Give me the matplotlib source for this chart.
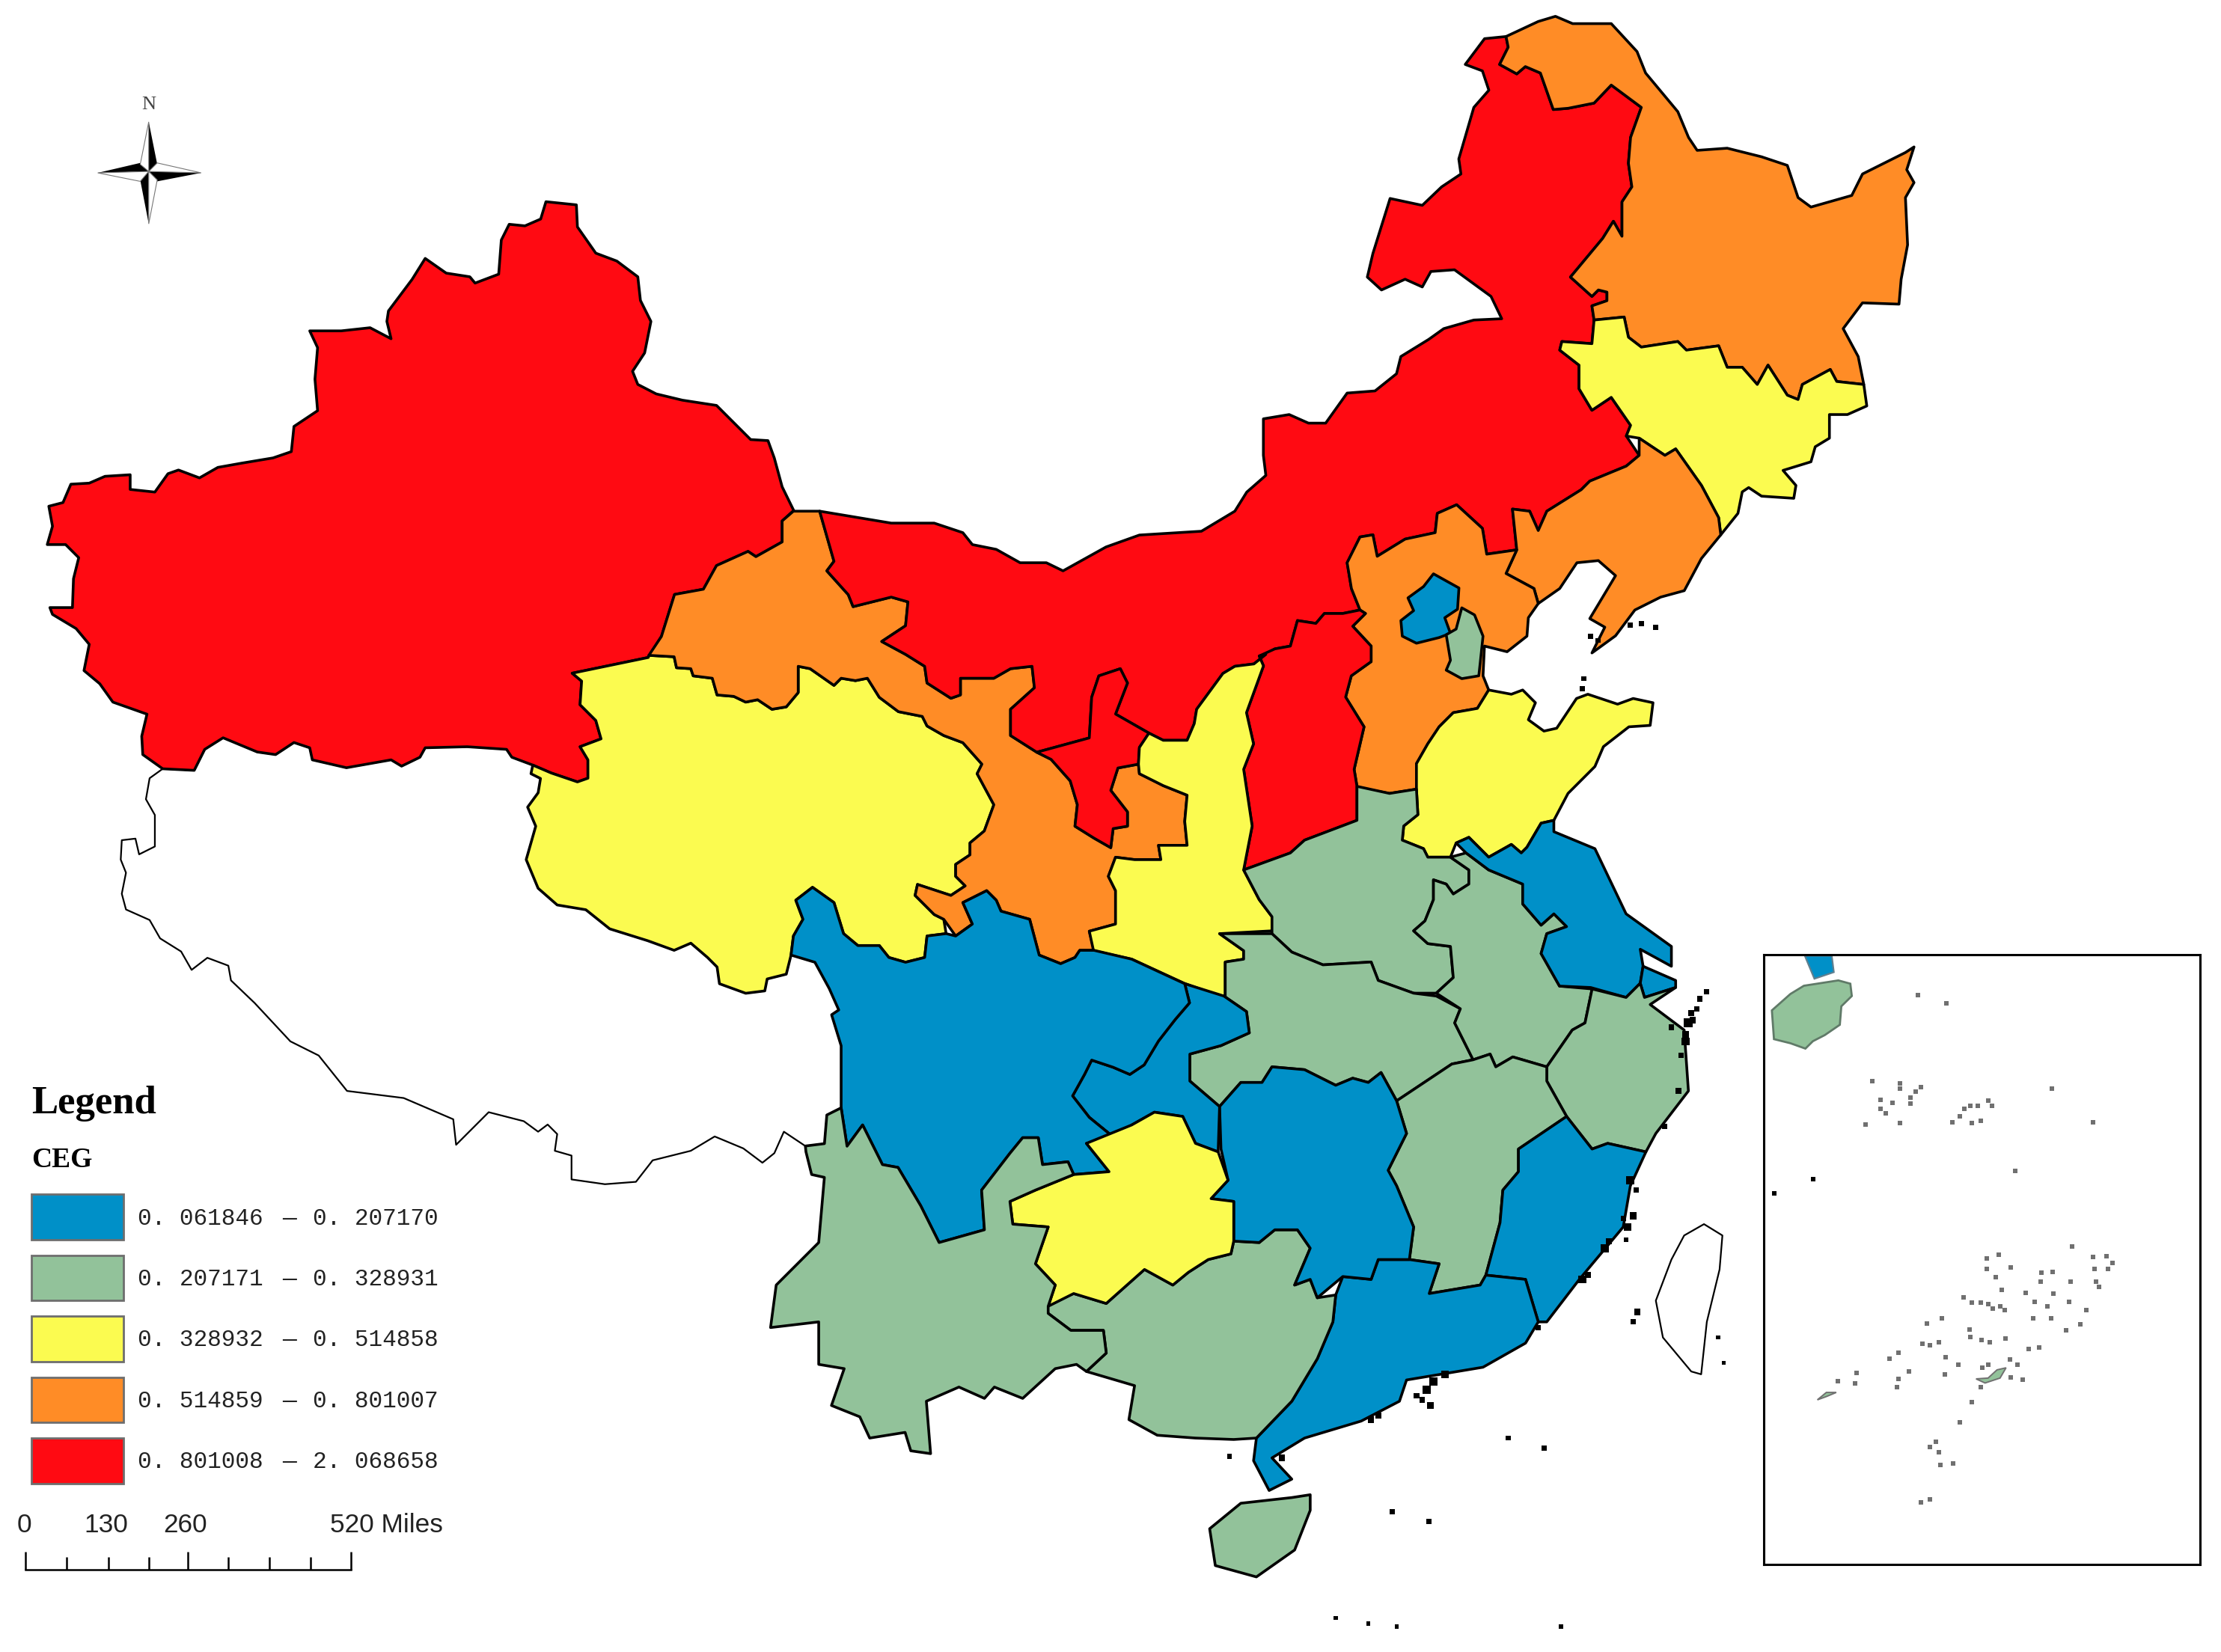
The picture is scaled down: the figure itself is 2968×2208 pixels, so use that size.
"""China province map of CEG classes, drawn in picture coordinates."""
import matplotlib
matplotlib.use("Agg")
import matplotlib.pyplot as plt
from matplotlib.patches import Polygon, Rectangle

BLUE, GREEN, YELLOW, ORANGE, RED = "#0090c8", "#92c29a", "#fbfb50", "#ff8c26", "#ff0a12"
CLASS_COLORS = [BLUE, GREEN, YELLOW, ORANGE, RED]
CLASS_LOW = ["0. 061846", "0. 207171", "0. 328932", "0. 514859", "0. 801008"]
CLASS_HIGH = ["0. 207170", "0. 328931", "0. 514858", "0. 801007", "2. 068658"]
SCALE_LABELS = ["0", "130", "260", "520 Miles"]


def west(pts):
    return [(x * 0.3706, 126.8 + y * 0.3706) for x, y in pts]


def north(pts):
    return [(898 + x * 0.3032, y * 0.3032) for x, y in pts]


def mid(pts):
    return [(369.8 + x * 0.3369, 317 + y * 0.3369) for x, y in pts]


# shared borders
XJ_OUTER = west([(1512,630),(1490,585),(1475,530),(1463,497),(1430,495),(1400,465),(1365,430),(1300,420),(1250,408),(1215,390),(1205,365),(1228,330),(1240,270),(1220,230),(1215,185),(1175,155),(1135,140),(1100,90),(1098,48),(1040,42),(1030,75),(1000,88),(970,85),(955,115),(950,180),(905,197),(895,185),(850,178),(810,150),(785,190),(740,250),(737,270),(745,303),(705,282),(650,288),(590,288),(605,320),(600,380),(605,440),(560,470),(555,518),(520,530),(460,540),(415,548),(380,568),(340,553),(320,560),(295,595),(248,590),(248,562),(200,565),(170,578),(135,580),(120,615),(93,622),(100,660),(90,695),(125,695),(150,720),(140,760),(138,815),(95,815),(100,828),(145,855),(170,885),(160,935),(190,960),(215,995),(280,1018),(270,1060),(272,1095),(310,1122)])
XJ_TIBET = west([(310,1122),(370,1125),(390,1085),(425,1063),(490,1090),(525,1095),(560,1072),(590,1082),(595,1105),(660,1120),(745,1105),(765,1117),(800,1100),(810,1082),(890,1080),(965,1085),(975,1100),(1015,1115),(1050,1130),(1100,1147)])
XJ_QH = west([(1120,1140),(1120,1105),(1105,1080),(1145,1065),(1135,1030),(1105,1000),(1108,955),(1090,940),(1235,910)])
XJ_GS = west([(1260,870),(1285,790),(1340,780),(1365,735),(1425,708),(1440,718),(1490,690),(1490,650)])
GS_QH = mid([(262,432),(315,435),(320,458),(350,460),(355,475),(395,480),(405,515),(440,518),(465,530),(490,525),(520,545),(550,540),(575,510),(575,455),(600,460),(650,495),(665,480),(695,485),(720,480),(745,520),(785,550),(835,560),(845,580),(880,600),(920,615),(960,660),(950,680),(985,745),(965,800),(935,825),(935,850),(905,870),(905,895),(925,915),(895,935),(825,912),(820,935),(860,975),(880,985)])
QH_SC = mid([(885,1015),(845,1020),(840,1065),(800,1075),(765,1065),(745,1040),(700,1040),(670,1015),(650,950),(605,918),(570,945),(585,985),(565,1020),(560,1060)])
QH_TIBET = mid([(550,1100),(510,1110),(505,1135),(465,1140),(410,1120),(405,1085),(385,1065),(350,1035),(315,1050),(260,1030),(180,1005),(130,965),(70,955),(30,920),(5,860),(25,790),(8,750),(30,720),(35,690),(15,680)])
GS_SC = mid([(905,1020),(940,995),(920,950),(970,925),(990,945),(1000,968),(1060,985),(1080,1060),(1125,1078),(1155,1065),(1165,1050),(1195,1050)])
GS_SHAANXI = mid([(1185,1010),(1240,995),(1240,925),(1225,895),(1240,855),(1280,860),(1335,860),(1330,830),(1390,830),(1385,780),(1390,725),(1340,705),(1290,680),(1288,660)])
GS_NX_EAST = mid([(1245,668),(1230,715),(1265,760),(1265,790),(1235,795),(1230,835)])
GS_NX_WEST = mid([(1195,815),(1155,790),(1160,745),(1145,695),(1105,650),(1075,635)])
GS_IM = mid([(1020,600),(1020,545),(1070,500),(1065,455),(1020,460),(985,480),(915,480),(915,515),(895,522),(845,490),(840,455),(800,430),(750,403),(800,370),(805,320),(770,310),(690,330),(680,305),(635,255),(650,235),(620,130)])
NX_IM = mid([(1075,635),(1185,605),(1190,520),(1205,475),(1250,460),(1265,490),(1240,555),(1310,595)])
IM_SHAANXI = mid([(1340,610),(1390,610),(1405,575),(1410,545),(1465,470),(1490,455),(1530,450),(1555,430)])
IM_SHANXI = [(900,458),(911,456),(916,438),(929,440),(935,433),(948,433)] + north([(205,1420)])
IM_COAST = mid([(770,155),(860,155),(920,175),(940,200),(990,210),(1040,238),(1095,238),(1130,255),(1220,205),(1290,180),(1420,172),(1490,130),(1515,90),(1555,55)]) + north([(-20,1060),(-20,975),(40,965),(85,985),(125,985),(175,915),(240,910),(290,870),(300,830),(365,790),(400,765),(470,745),(535,742),(510,690),(425,628),(370,632),(350,668),(310,650),(255,675),(222,645),(235,590),(275,462),(350,478),(395,435),(440,405),(435,370),(470,250),(505,210),(490,165),(450,150),(495,90)])
IM_HLJ = north([(545,85),(550,110),(530,150),(570,172),(590,155),(625,170),(655,255),(690,252),(750,240),(790,198),(860,250),(835,320),(830,380),(838,435),(815,470),(815,550),(795,515),(770,555),(695,645),(745,690),(760,675),(780,680),(780,700),(745,712),(750,745)])
HLJ_OUTER = north([(620,50),(660,38),(700,55),(790,55),(850,120),(870,170),(945,260),(970,320),(990,350),(1060,345),(1140,365),(1200,385),(1225,460),(1255,482),(1350,455),(1375,405),(1475,355),(1495,342),(1478,395),(1495,425),(1475,460),(1480,570),(1465,650),(1460,708),(1375,705),(1330,765),(1365,830),(1378,895)])
HLJ_JL = north([(820,738),(830,785),(860,808),(945,795),(965,815),(1040,805),(1060,855),(1095,855),(1130,895),(1155,850),(1200,920),(1225,930),(1235,895),(1300,860),(1315,888)])
JL_OUTER = north([(1385,945),(1340,965),(1298,965),(1298,1020),(1265,1040),(1255,1075),(1190,1095),(1220,1130),(1215,1160),(1140,1155),(1110,1135),(1095,1145),(1085,1195)])
JL_LN = north([(1045,1245),(1040,1205),(1000,1130),(940,1045),(915,1060),(855,1020)])
JL_IM = north([(825,1015),(835,990),(790,925),(745,955),(715,905),(715,850),(670,815),(675,795),(745,800)])
IM_LN = north([(855,1060),(825,1085),(740,1120),(720,1140),(640,1190),(620,1235),(600,1190),(560,1185),(570,1280)])
IM_HB = north([(500,1290),(490,1230),(430,1175),(385,1195),(380,1240),(310,1255),(245,1295),(235,1245),(205,1250),(175,1310),(185,1370)])
LN_HB = north([(545,1335),(610,1370),(620,1405)])
LN_COAST = north([(1000,1300),(960,1375),(905,1390),(845,1420),(800,1480),(745,1520),(775,1460),(740,1440),(800,1340),(760,1305),(710,1310),(670,1370)])
SHANXI_HB = [(964,433),(955,442),(968,456),(968,467),(954,477),(950,492),(963,513),(956,543),(958,555)]
SHANXI_SHAANXI = [(892,470),(880,503),(885,525),(878,543),(884,583)]
SHANXI_HENAN = [(878,614),(911,602),(921,593),(958,579)]
SHAANXI_HENAN = [(889,635),(898,647),(898,657)]
SHAANXI_HUBEI = [(861,659),(878,671),(878,677),(865,679),(865,704)]
HB_SOUTH = [(981,560),(1000,557)]
HB_SD = [(1000,539),(1008,525),(1016,513),(1026,503),(1043,500),(1051,487)]
HENAN_SD = [(1001,575),(991,583),(990,593),(1005,599),(1008,605),(1024,605)]
HENAN_AH = [(1037,614),(1037,624),(1026,631),(1021,624),(1012,621),(1012,635),(1006,650),(998,657),(1008,666),(1024,668),(1026,690),(1014,701)]
HENAN_HUBEI = [(998,701),(973,692),(968,679),(934,681),(912,672)]
AH_JS = [(1051,614),(1075,624),(1075,638),(1088,653),(1097,645),(1106,654),(1092,659),(1088,673),(1101,696)]
SD_JS = [(1037,591),(1051,605),(1067,596),(1074,602),(1078,598),(1088,581),(1097,579)]
AH_JX = [(1092,753),(1068,746),(1056,753),(1052,744),(1040,748)]
AH_HUBEI = [(1027,722),(1031,712)]
AH_ZJ = [(1124,698),(1119,722),(1110,727)]
JX_HUBEI = [(1025,751),(986,777)]
HUBEI_HUNAN = [(975,757),(966,764),(955,761),(943,766),(921,755),(898,753),(891,764),(876,764),(861,781)]
HUBEI_CQ = [(840,763),(840,744),(862,738),(882,729),(880,714)]
CQ_SC = mid([(1385,1120),(1395,1160),(1365,1195),(1330,1240),(1300,1290),(1270,1310),(1235,1295),(1190,1280),(1175,1310),(1150,1355),(1185,1400),(1240,1445)])
GZ_CQ = [(799,794),(815,785),(835,788),(844,807),(860,813)]
GZ_SC = [(767,807),(783,827),(758,829)]
SC_YN = [(754,820),(736,822),(733,803),(722,803),(713,814),(693,840),(695,868),(663,877),(650,851),(634,824),(623,822),(609,794),(598,809)]
GZ_HUNAN = [(867,833),(855,846),(871,848),(871,876)]
GZ_GX = [(869,885),(853,889),(839,898),(828,907),(808,896),(781,920),(758,913)]
GZ_YN = [(745,907),(731,892),(740,866),(715,864),(713,848),(731,840)]
GX_YN = [(740,927),(756,939),(779,939),(781,955),(767,968)]
GX_HUNAN = [(889,877),(900,868),(916,868),(925,881),(914,907),(925,903),(930,916)]
GX_GD = [(943,914),(941,933),(930,959),(912,989),(887,1015)]
GD_HUNAN = [(948,901),(968,903),(973,889),(995,889)]
HUNAN_JX = [(986,777),(993,800),(980,826),(986,837),(998,866),(995,889)]
JX_GD = [(1016,892),(1009,913),(1045,907)]
JX_FJ = [(1049,900),(1059,863),(1061,840),(1072,827),(1072,811),(1106,788)]
ZJ_JX = [(1092,763),(1092,753)]
FJ_GD = [(1049,900),(1077,903),(1086,933)]

XINJIANG = XJ_OUTER + XJ_TIBET + XJ_QH + XJ_GS
TIBET = west([(310,1122),(285,1140),(278,1180),(295,1210),(295,1270),(265,1285),(258,1255),(232,1258),(230,1295),(240,1320),(232,1360),(240,1390),(285,1410),(305,1445),(345,1470),(365,1505),(395,1482),(435,1497),(440,1525),(485,1568)]) + [(205,735),(225,745),(245,770),(285,775),(320,790),(322,808),(345,785)] + mid([(0,1408),(30,1430),(50,1415),(70,1435),(65,1470),(100,1480),(100,1530),(170,1540),(235,1535),(270,1490),(350,1470),(400,1440),(460,1465),(500,1495),(525,1475),(545,1430),(590,1460),(630,1455),(635,1395),(665,1380),(665,1250),(645,1185),(660,1175),(640,1130),(610,1075),(560,1060)]) + QH_TIBET + XJ_TIBET[::-1]
QINGHAI = XJ_TIBET[-3:] + XJ_QH + GS_QH + QH_SC + QH_TIBET
GANSU = XJ_GS + mid([(565,130)]) + GS_IM[::-1] + GS_NX_WEST[::-1] + GS_NX_EAST[::-1] + GS_SHAANXI[::-1] + GS_SC[::-1] + GS_QH[::-1]
NINGXIA = NX_IM + mid([(1290,625),(1288,660)]) + GS_NX_EAST + GS_NX_WEST
INNER_MONGOLIA = GS_IM[-1:] + IM_COAST + IM_HLJ + JL_IM[::-1] + IM_LN + IM_HB + IM_SHANXI[::-1] + IM_SHAANXI[::-1] + NX_IM[::-1] + GS_IM
HEILONGJIANG = north([(545,85)]) + HLJ_OUTER + HLJ_JL[::-1] + IM_HLJ[::-1]
JILIN = north([(750,745)]) + HLJ_JL + HLJ_OUTER[-1:] + JL_OUTER + JL_LN + JL_IM
LIAONING = IM_LN + LN_HB + LN_COAST[::-1] + JL_LN
HEBEI = IM_HB[::-1] + north([(570,1280)]) + LN_HB + [(1079,436),(1078,449),(1064,460),(1048,456),(1047,477)] + HB_SD[::-1] + HB_SOUTH[::-1] + [(959,556)] + SHANXI_HB[::-1] + IM_SHANXI[-1:]
BEIJING = [(1012,405),(1030,415),(1029,430),(1020,436),(1024,447),(1016,450),(1000,454),(990,449),(989,438),(998,431),(994,422),(1005,414)]
TIANJIN = [(1032,429),(1041,434),(1047,449),(1045,468),(1044,477),(1032,479),(1021,473),(1024,466),(1021,448),(1028,444)]
SHANXI = IM_SHANXI + SHANXI_HB + SHANXI_HENAN[::-1] + SHANXI_SHAANXI[::-1] + [(889,463)]
SHAANXI = [(889,463)] + SHANXI_SHAANXI + [(878,614)] + SHAANXI_HENAN + SHAANXI_HUBEI + [(850,699),(836,694),(799,677),(772,671)] + GS_SHAANXI + mid([(1290,625),(1310,595)]) + IM_SHAANXI
SHANDONG = [(1000,557)] + HB_SD + [(1067,490),(1075,487),(1084,496),(1079,508),(1090,516),(1099,514),(1113,493),(1121,490),(1142,497),(1153,493),(1167,496),(1165,512),(1150,513),(1132,527),(1126,541),(1107,560)] + SD_JS[::-1] + [(1028,595)] + HENAN_SD[::-1]
HENAN = SHANXI_HENAN + [(958,555),(981,560),(1000,557)] + HENAN_SD + HENAN_AH + HENAN_HUBEI + [(898,659)] + SHAANXI_HENAN[::-1]
HUBEI = [(861,659)] + [(898,659)] + HENAN_HUBEI[::-1] + [(1014,703)] + AH_HUBEI[::-1] + [(1040,748)] + JX_HUBEI + HUBEI_HUNAN + HUBEI_CQ + [(864,703)] + SHAANXI_HUBEI[::-1]
ANHUI = [(1024,605),(1035,602)] + AH_JS + AH_ZJ + AH_JX + AH_HUBEI + [(1014,701)] + HENAN_AH[::-1]
JIANGSU = [(1028,595)] + SD_JS + [(1097,587),(1126,599),(1148,645),(1180,668),(1180,682),(1158,670),(1160,682),(1158,694),(1148,704),(1123,697)] + AH_JS[::-1] + [(1035,602)]
SHANGHAI = [(1160,682),(1183,692),(1183,697),(1161,704),(1158,694)]
ZHEJIANG = [(1124,698),(1148,704),(1158,694),(1161,704),(1183,697),(1165,709),(1189,727),(1192,770),(1169,800),(1162,813),(1135,807),(1124,811),(1106,788),(1092,763),(1092,753),(1110,727),(1119,722)]
JIANGXI = [(986,777)] + JX_HUBEI[::-1] + [(1040,748)] + AH_JX[::-1] + ZJ_JX[::-1] + JX_FJ[::-1] + JX_GD[::-1] + HUNAN_JX[::-1]
FUJIAN = [(1106,788),(1124,811),(1135,807),(1162,813),(1151,837),(1146,866),(1115,903),(1092,933),(1086,933)] + FJ_GD[::-1] + JX_FJ[1:]
GUANGDONG = GX_GD[:1] + GD_HUNAN + [(1016,892)] + JX_GD[1:] + FJ_GD + [(1077,948),(1047,965),(993,974),(988,989),(961,1003),(921,1015),(898,1029),(912,1044),(896,1052),(885,1031)] + GX_GD[::-1]
HAINAN = [(925,1055),(925,1066),(914,1094),(887,1113),(858,1105),(854,1079),(876,1061),(912,1057)]
GUANGXI = GX_HUNAN + GX_GD + [(871,1016),(844,1015),(817,1013),(797,1002),(801,978)] + GX_YN[::-1] + [(738,920)] + GZ_GX[::-1] + [(871,876)]
HUNAN = [(861,781)] + HUBEI_HUNAN[::-1] + [(986,777)] + HUNAN_JX + GD_HUNAN[::-1] + [(930,916),(925,903),(914,907),(925,881),(916,868),(900,868),(889,877)] + GZ_HUNAN[::-1] + [(862,811)]
CHONGQING = CQ_SC + [(769,789),(787,804)] + GZ_CQ + [(861,781)] + HUBEI_CQ + [(864,703)]
SICHUAN = QH_SC[::-1] + GS_SC + [(799,677)] + CQ_SC + GZ_SC + SC_YN + mid([(665,1380),(665,1250),(645,1185),(660,1175),(640,1130),(610,1075)])
GUIZHOU = [(799,794)] + GZ_CQ[1:] + [(867,833)] + GZ_HUNAN[1:] + GZ_GX + [(740,922)] + GZ_YN + GZ_SC[::-1]
YUNNAN = mid([(590,1460),(630,1455),(635,1395),(665,1380)]) + SC_YN[::-1] + GZ_SC[-1:] + GZ_YN[::-1] + [(740,922)] + GX_YN + [(760,963),(745,966),(722,987),(702,979),(695,987),(677,979),(654,989),(657,1026),(643,1024),(639,1011),(614,1015),(607,1000),(587,992),(596,966),(578,963),(578,933),(544,937),(548,907),(578,877),(582,831),(573,829),(569,813)]
TAIWAN = [(1203,864),(1216,872),(1214,896),(1205,933),(1201,970),(1194,968),(1174,944),(1169,918),(1180,889),(1189,872)]

PROVINCES = [
    (TIBET, "white"), (XINJIANG, RED), (QINGHAI, YELLOW), (GANSU, ORANGE), (INNER_MONGOLIA, RED),
    (NINGXIA, RED), (HEILONGJIANG, ORANGE), (JILIN, YELLOW), (LIAONING, ORANGE), (HEBEI, ORANGE),
    (BEIJING, BLUE), (TIANJIN, GREEN), (SHANXI, RED), (SHAANXI, YELLOW), (SHANDONG, YELLOW),
    (HENAN, GREEN), (HUBEI, GREEN), (ANHUI, GREEN), (JIANGSU, BLUE), (SHANGHAI, BLUE),
    (ZHEJIANG, GREEN), (JIANGXI, GREEN), (FUJIAN, BLUE), (GUANGDONG, BLUE), (HAINAN, GREEN),
    (GUANGXI, GREEN), (HUNAN, BLUE), (CHONGQING, BLUE), (SICHUAN, BLUE), (GUIZHOU, YELLOW),
    (YUNNAN, GREEN), (TAIWAN, "white"),
]

COAST_X = [1151,1159,1169,1128,1123,1118,1117,1195,1200,1192,1190,1187,1194,1205,1190,1185,1175,1151,1149,1153,1133,1136,1117,1121,1086,1007,1012,1004,1020,968,973,905,1065,1090,868,983,1009,943,966,986,1102,1156,1153,1213,1217,1148,1146,1155,1180,1198,1010,1000]
COAST_Y = [441,440,443,452,449,479,486,720,705,722,730,745,715,700,735,770,795,833,866,858,881,876,903,900,937,981,975,988,970,1002,999,1029,1015,1022,1028,1067,1074,1142,1146,1148,1148,926,933,944,962,875,860,840,725,712,992,985]
COAST_SIZE = [6,6,6,6,6,6,6,9,7,18,12,7,9,6,14,7,6,14,14,12,16,9,14,9,7,16,14,7,12,9,9,9,6,7,6,6,6,4,4,4,4,9,6,4,4,6,6,6,7,6,10,7]

# inset, in its own crop scale
INSET_HAINAN = [(68,165),(130,125),(175,105),(290,92),(330,100),(335,130),(300,155),(295,200),(245,225),(205,240),(180,258),(130,245),(75,235)]
INSET_BLUE = [(178,32),(268,32),(275,72),(210,88)]
INSET_TAIL = [(220,1113),(250,1095),(283,1095),(250,1105)]
INSET_ISLE = [(750,1062),(790,1060),(820,1040),(850,1035),(830,1060),(780,1072)]
ISLE_X = [403,495,495,430,430,472,565,548,530,530,448,380,495,555,650,730,755,790,803,710,695,672,765,735,1002,1140,880,1070,825,785,1140,1185,1205,1145,1190,815,785,865,968,1005,1065,965,835,1150,1160,915,1008,945,988,1060,1118,940,1000,1050,1098,830,805,845,790,735,708,765,635,585,570,595,625,490,460,648,690,728,730,768,795,848,925,960,770,790,862,888,765,865,905,735,697,288,350,345,490,485,527,645,615,625,630,673,595,565,595]
ISLE_Y = [337,342,355,382,405,390,352,362,378,392,415,442,440,128,148,398,398,385,397,405,422,438,433,440,355,438,556,740,760,768,765,763,780,795,795,815,795,790,803,802,825,825,845,825,838,852,855,875,885,875,895,915,915,944,930,885,890,895,880,877,863,877,915,927,977,980,972,998,1012,1010,1027,942,960,968,973,963,990,985,1035,1027,1015,1028,1082,1058,1063,1118,1168,1068,1047,1073,1062,1082,1043,1052,1215,1240,1272,1268,1228,1362,1355]
BLACK_X = [205,75]
BLACK_Y = [576,611]

# north arrow: four dark and four light blades
N_DARK = [[(105,86),(111,116),(105,121)], [(105,158),(99,127),(105,121)], [(69,122),(99,115),(105,121)], [(142,122),(111,128),(105,121)]]
N_LIGHT = [[(105,86),(99,116),(105,121)], [(105,158),(111,127),(105,121)], [(69,122),(99,128),(105,121)], [(142,122),(111,115),(105,121)]]

fig = plt.figure(figsize=(14.84, 11.04), dpi=200)
ax = fig.add_axes([0, 0, 1, 1])
ax.set_xlim(0, 1568)
ax.set_ylim(1166, 0)
ax.axis("off")

for outline, color in PROVINCES:
    lw = 0.8 if color == "white" else 1.3
    ax.add_patch(Polygon(outline, closed=True, facecolor=color, edgecolor="black", linewidth=lw, joinstyle="round"))
ax.scatter(COAST_X, COAST_Y, s=COAST_SIZE, c="black", marker="s", linewidths=0)

for blade in N_DARK:
    ax.add_patch(Polygon(blade, facecolor="black", edgecolor="none"))
for blade in N_LIGHT:
    ax.add_patch(Polygon(blade, facecolor="white", edgecolor="#777777", linewidth=0.4))
ax.text(105, 74, "N", family="Liberation Serif", fontsize=9.5, color="#444444", ha="center", va="center")

# legend
ax.text(22, 779, "Legend", family="Liberation Serif", weight="bold", fontsize=19, ha="left", va="center")
ax.text(22, 819, "CEG", family="Liberation Serif", weight="bold", fontsize=13.5, ha="left", va="center")
for i, color in enumerate(CLASS_COLORS):
    y0 = 843 + i * 43
    ax.add_patch(Rectangle((22, y0), 65, 32, facecolor=color, edgecolor="#6e6e6e", linewidth=1.0))
    yc = y0 + 17
    ax.text(97, yc, CLASS_LOW[i], family="Liberation Mono", fontsize=11.2, color="#222222", ha="left", va="center")
    ax.text(204, yc, "—", family="Liberation Mono", fontsize=11.2, color="#222222", ha="center", va="center")
    ax.text(221, yc, CLASS_HIGH[i], family="Liberation Mono", fontsize=11.2, color="#222222", ha="left", va="center")

# scale bar
major = [18, 132.6, 248]
minor = [47, 76.5, 105, 161, 190, 219]
ax.plot([18, 248], [1108, 1108], color="black", lw=0.9)
ax.vlines(major, 1095, 1108, color="black", lw=0.9)
ax.vlines(minor, 1099, 1108, color="black", lw=0.9)
for x, label in zip([17, 75, 131, 273], SCALE_LABELS):
    ax.text(x, 1076.5, label, family="Liberation Sans", fontsize=12.7, color="#222222", ha="center", va="center")

# inset box
inset = fig.add_axes([1245 / 1568, 1 - 1104 / 1166, 308 / 1568, 430 / 1166])
inset.set_xlim(40, 1497)
inset.set_ylim(1513, 30)
inset.set_xticks([])
inset.set_yticks([])
for spine in inset.spines.values():
    spine.set_linewidth(1.1)
inset.add_patch(Polygon(INSET_BLUE, facecolor=BLUE, edgecolor="#5f7f8f", linewidth=0.8))
inset.add_patch(Polygon(INSET_HAINAN, facecolor=GREEN, edgecolor="#607a68", linewidth=1.0))
inset.add_patch(Polygon(INSET_ISLE, facecolor=GREEN, edgecolor="#707070", linewidth=0.7))
inset.add_patch(Polygon(INSET_TAIL, facecolor=GREEN, edgecolor="#707070", linewidth=0.7))
inset.scatter(ISLE_X, ISLE_Y, s=6, c="#707070", marker="s", linewidths=0)
inset.scatter(BLACK_X, BLACK_Y, s=4, c="black", marker="s", linewidths=0)

fig.savefig("out.png", dpi=200)
